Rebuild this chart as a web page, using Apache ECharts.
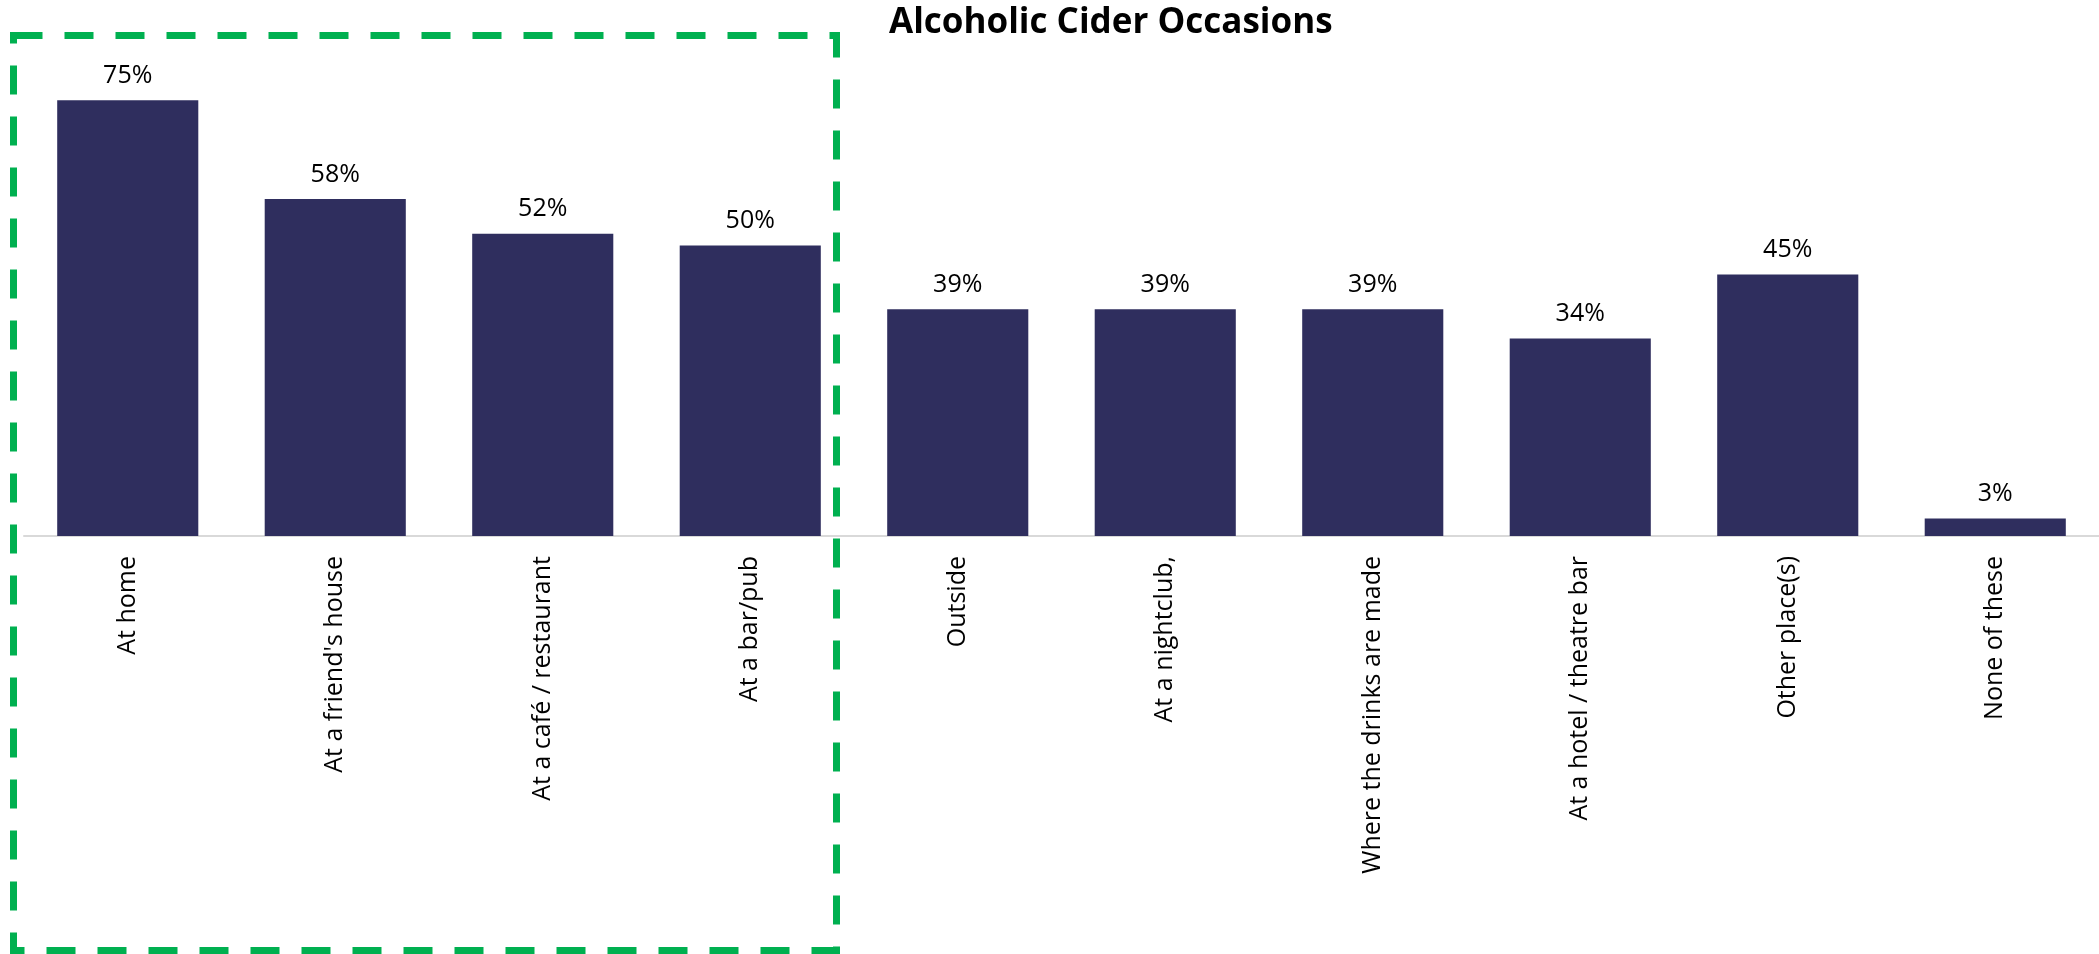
<!DOCTYPE html>
<html style="height: 100%">
   <head>
       <meta charset="utf-8">
   </head>
   <body style="height: 100%; margin: 0">
       <div id="container" style="height: 100%"></div>
       <script type="text/javascript" src="https://cdn.jsdelivr.net/npm/echarts@6/dist/echarts.min.js"></script>
       <script type="text/javascript">
var categories = [
    "At home",
    "At a friend's house",
    "At a café / restaurant",
    "At a bar/pub",
    "Outside",
    "At a nightclub,",
    "Where the drinks are made",
    "At a hotel / theatre bar",
    "Other place(s)",
    "None of these"
];
var shares = [75, 58, 52, 50, 39, 39, 39, 34, 45, 3];

var dom = document.getElementById("container");
var myChart = echarts.init(dom);
var option = {
    backgroundColor: '#fff',
    textStyle: {
        fontFamily: '"Open Sans", sans-serif'
    },
    title: {
        text: 'Alcoholic Cider Occasions',
        left: 884,
        top: 1,
        textStyle: {
            fontSize: 35,
            fontWeight: 'bold',
            color: '#000'
        }
    },
    grid: {
        left: 24,
        right: 0,
        top: 13,
        bottom: 418,
        containLabel: false
    },
    xAxis: {
        type: 'category',
        data: categories,
        axisTick: { show: false },
        axisLine: {
            lineStyle: { color: '#d9d9d9', width: 2 }
        },
        axisLabel: {
            rotate: 90,
            margin: 20,
            fontSize: 25,
            color: '#000',
            interval: 0
        }
    },
    yAxis: {
        type: 'value',
        min: 0,
        max: 90,
        show: false
    },
    series: [
        {
            type: 'bar',
            data: shares,
            barCategoryGap: '32%',
            itemStyle: { color: '#2f2e5e' },
            label: {
                show: true,
                position: 'top',
                distance: 12,
                fontSize: 25,
                color: '#000',
                formatter: '{c}%'
            }
        }
    ],
    graphic: [
        {
            type: 'rect',
            shape: { x: 13.5, y: 35.5, width: 823, height: 915 },
            style: {
                fill: 'none',
                stroke: '#00b050',
                lineWidth: 7,
                lineDash: [29, 22]
            },
            z: 10
        }
    ]
};
myChart.setOption(option, true);
       </script>
   </body>
</html>
